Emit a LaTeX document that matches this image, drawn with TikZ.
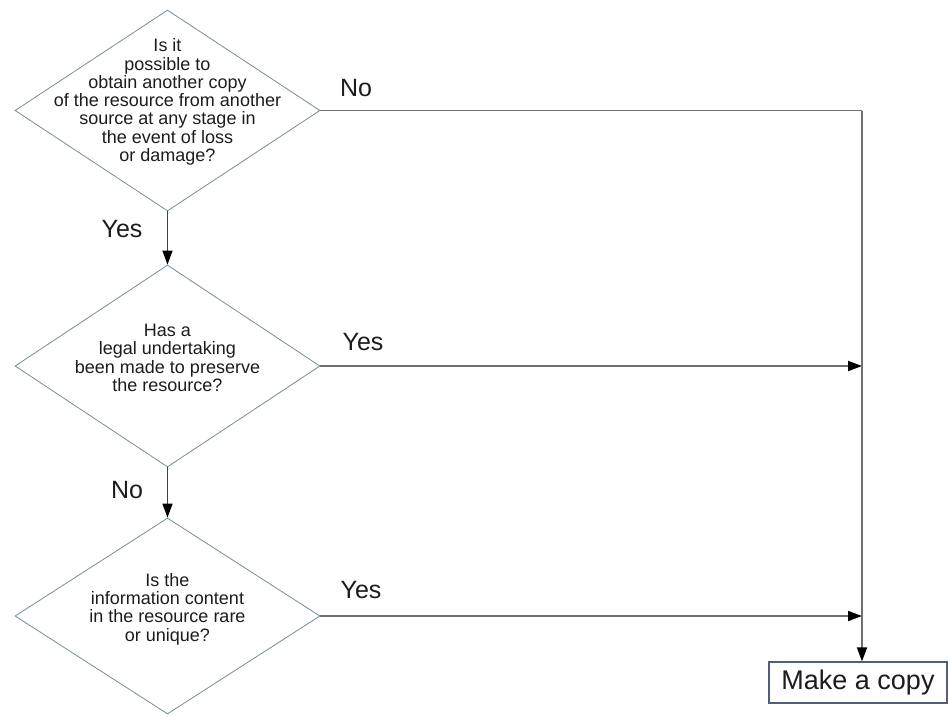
\documentclass[tikz,border=0pt]{standalone}
\usepackage{fontspec}
\setmainfont{Liberation Sans}
\usetikzlibrary{arrows.meta}
\usetikzlibrary{shapes.geometric}
\definecolor{rautenrand}{RGB}{118,140,152}
\definecolor{strich}{RGB}{112,112,112}
\definecolor{kastenrand}{RGB}{84,94,120}
\definecolor{schrift}{RGB}{28,28,28}

\begin{document}
\begin{tikzpicture}[x=1pt, y=-1pt,
	frage/.style={draw=rautenrand, thick, shape=diamond, minimum width=305pt, minimum height=#1, inner sep=0pt},
	fragetext/.style={align=center, font=\fontsize{18}{18.3}\selectfont, text=schrift},
	antwort/.style={font=\fontsize{25}{30}\selectfont, text=schrift, inner sep=0pt},
	quer/.style={draw=strich, line width=1.8pt},
	runter/.style={draw=black!75, line width=1.4pt, -{Triangle[length=14pt,width=10pt,color=black]}},
	rechts/.style={quer, -{Triangle[length=14pt,width=10pt,color=black]}}]

	\useasboundingbox (0,0) rectangle (948,716);

	% Frage 1
	\node[frage=201pt] (F1) at (167.5,110.5) {};
	\node[fragetext] (T1) at (167.5,102) {Is it\\possible to\\obtain another copy\\of the resource from another\\source at any stage in\\the event of loss\\or damage?};

	% Frage 2
	\node[frage=202pt] (F2) at (167.5,366) {};
	\node[fragetext] (T2) at (167.5,358) {Has a\\legal undertaking\\been made to preserve\\the resource?};

	% Frage 3
	\node[frage=196pt] (F3) at (167.5,616) {};
	\node[fragetext] (T3) at (167.5,609) {Is the\\information content\\in the resource rare\\or unique?};

	% Ergebnis
	\node[draw=kastenrand, line width=1.2pt, rectangle, minimum width=178pt, minimum height=41pt, font=\fontsize{27}{32}\selectfont, text=schrift] (K) at (858,682.5) {Make a copy};
	\coordinate (S) at (862,110.5);

	% Verbindungen
	\draw[runter] (F1.south) -- (F2.north);
	\draw[runter] (F2.south) -- (F3.north);
	\draw[quer] (F1.east) -- (S);
	\draw[rechts] (F2.east) -- (S |- F2.east);
	\draw[rechts] (F3.east) -- (S |- F3.east);
	\draw[quer, -{Triangle[length=14pt,width=10pt,color=black]}] (S) -- (S |- K.north);

	% Antworten
	\node[antwort] (A1) at (356,88) {No};
	\node[antwort] (A2) at (122,229) {Yes};
	\node[antwort] (A3) at (363,342) {Yes};
	\node[antwort] (A4) at (127,490) {No};
	\node[antwort] (A5) at (361,590) {Yes};

\end{tikzpicture}
\end{document}
